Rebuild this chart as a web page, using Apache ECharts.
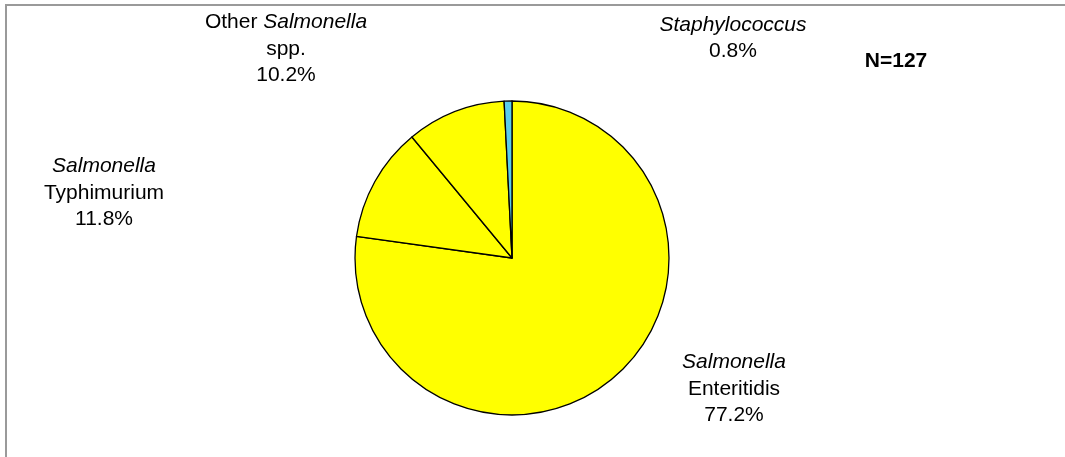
<!DOCTYPE html>
<html>
<head>
<meta charset="utf-8">
<script src="https://cdn.jsdelivr.net/npm/echarts@6/dist/echarts.min.js"></script>
<style>html,body{margin:0;padding:0;background:#fff;}#c{width:1065px;height:457px;}</style>
</head>
<body>
<div id="c"></div>
<script>
// Data
var categories = ['Salmonella Enteritidis', 'Salmonella Typhimurium', 'Other Salmonella spp.', 'Staphylococcus'];
var values = [77.2, 11.8, 10.2, 0.8];
var labelTexts = [
  '{i|Salmonella}\n{n|Enteritidis}',
  '{i|Salmonella}\n{n|Typhimurium}',
  '{n|Other }{i|Salmonella}\n{n|spp.}',
  '{i|Staphylococcus}'
];
var sampleNote = 'N=127';

var colors = ['#FFFF00', '#FFFF00', '#FFFF00', '#5ACDEB'];
var labelPos = [[734, 389], [104, 193], [286, 49], [733, 38]];
var FONT = '"Liberation Sans", Arial, sans-serif';

var chart = echarts.init(document.getElementById('c'), null, {renderer: 'canvas'});
var baseText = {fontFamily: FONT, fontSize: 21, color: '#000', lineHeight: 26.5};
chart.setOption({
  animation: false,
  backgroundColor: '#fff',
  graphic: [
    {type: 'rect', shape: {x: 6, y: 5, width: 1100, height: 500}, style: {fill: 'none', stroke: '#9a9a9a', lineWidth: 2}, silent: true},
    {type: 'text', x: 896, y: 61, style: {text: sampleNote, font: 'bold 21px ' + FONT, fill: '#000', align: 'center', verticalAlign: 'middle'}}
  ],
  series: [{
    type: 'pie',
    center: [512, 258],
    radius: 157,
    startAngle: 90,
    clockwise: true,
    avoidLabelOverlap: false,
    emphasis: {disabled: true},
    itemStyle: {borderColor: '#000', borderWidth: 1.3},
    labelLine: {show: false},
    label: {
      show: true,
      position: 'outside',
      align: 'center',
      formatter: function (p) {
        return labelTexts[p.dataIndex] + '\n{n|' + p.value.toFixed(1) + '%}';
      },
      rich: {
        i: Object.assign({}, baseText, {fontStyle: 'italic', align: 'center'}),
        n: Object.assign({}, baseText, {align: 'center'})
      }
    },
    labelLayout: function (params) {
      var pos = labelPos[params.dataIndex];
      return {x: pos[0], y: pos[1], align: 'center', verticalAlign: 'middle'};
    },
    data: categories.map(function (c, i) {
      return {name: c, value: values[i], itemStyle: {color: colors[i]}};
    })
  }]
});
</script>
</body>
</html>
